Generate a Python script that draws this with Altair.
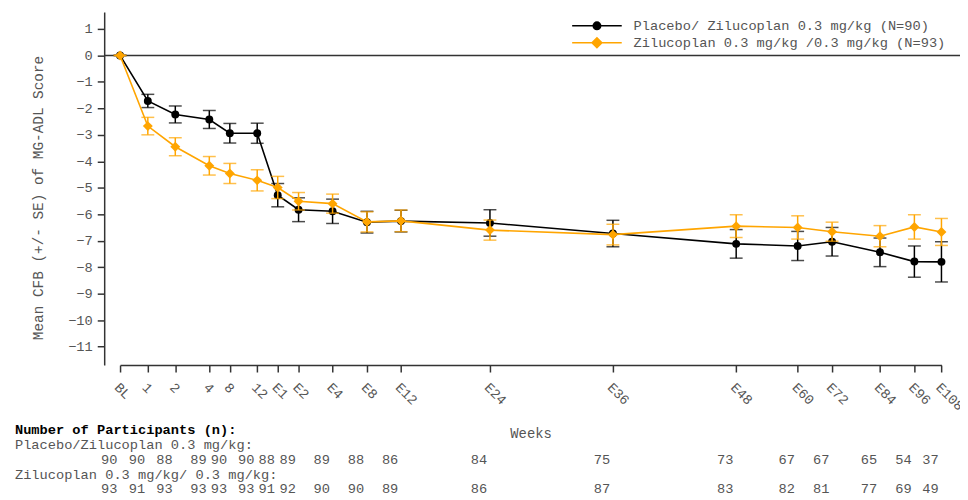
import altair as alt
import pandas as pd

# ---------------- data ----------------
weeks = [0, 1, 2, 4, 8, 12, 13, 14, 16, 20, 24, 36, 48, 60, 72, 84, 96, 108, 120]
visit_labels = ["BL", "1", "2", "4", "8", "12", "E1", "E2", "E4", "E8", "E12",
                "E24", "E36", "E48", "E60", "E72", "E84", "E96", "E108"]

placebo_mean = [0, -1.72, -2.23, -2.42, -2.94, -2.94, -5.28, -5.83, -5.89, -6.30, -6.26,
                -6.33, -6.73, -7.12, -7.20, -7.04, -7.44, -7.79, -7.80]
placebo_se = [0, 0.25, 0.32, 0.34, 0.37, 0.38, 0.44, 0.45, 0.46, 0.41, 0.41,
              0.50, 0.50, 0.54, 0.55, 0.54, 0.54, 0.59, 0.76]
zilu_mean = [0, -2.67, -3.45, -4.17, -4.46, -4.72, -4.99, -5.51, -5.60, -6.29, -6.25,
             -6.60, -6.77, -6.45, -6.50, -6.66, -6.83, -6.48, -6.67]
zilu_se = [0, 0.33, 0.34, 0.35, 0.38, 0.40, 0.42, 0.33, 0.36, 0.38, 0.41,
           0.38, 0.39, 0.43, 0.44, 0.36, 0.40, 0.46, 0.51]

placebo_n = [90, 90, 88, 89, 90, 90, 88, 89, 89, 88, 86, 84, 75, 73, 67, 67, 65, 54, 37]
zilu_n = [93, 91, 93, 93, 93, 93, 91, 92, 90, 90, 89, 86, 87, 83, 82, 81, 77, 69, 49]

series_names = ["Placebo/ Zilucoplan 0.3 mg/kg (N=90)",
                "Zilucoplan 0.3 mg/kg /0.3 mg/kg (N=93)"]
series_colors = ["#000000", "#FFA500"]
series_shapes = ["circle", "diamond"]
series_sizes = [64, 100]
table_header = "Number of Participants (n):"
row_titles = ["Placebo/Zilucoplan 0.3 mg/kg:", "Zilucoplan 0.3 mg/kg/ 0.3 mg/kg:"]
y_title = "Mean CFB (+/- SE) of MG-ADL Score"
x_title = "Weeks"

# ---------------- layout (not data) ----------------
x_pixels = [16, 44, 71.7, 106, 126.7, 154.3, 175, 196, 230.3, 265, 299.3,
            389, 513, 637.3, 699.3, 734, 782.3, 817, 844.3]
PW, PH = 863, 356
FONT = "Liberation Mono"
FS = 13.8
GRAY = "#555555"

rows = []
for name, means, ses, ns in [(series_names[0], placebo_mean, placebo_se, placebo_n),
                             (series_names[1], zilu_mean, zilu_se, zilu_n)]:
    for w, m, s, n in zip(weeks, means, ses, ns):
        rows.append({"week": w, "series": name, "mean": m,
                     "lo": m - s, "hi": m + s, "n": n})
df = pd.DataFrame(rows)

label_expr = ("[" + ",".join("'%s'" % l for l in visit_labels) + "][indexof(["
              + ",".join(str(w) for w in weeks) + "], datum.value)]")

xscale = alt.Scale(domain=weeks, range=x_pixels, nice=False, zero=False)
yscale = alt.Scale(domain=[-11.7, 1.64], nice=False, zero=False)
cscale = alt.Scale(domain=series_names, range=series_colors)

x_axis = alt.Axis(values=weeks, labelExpr=label_expr, labelAngle=45, labelAlign="left",
                  labelBaseline="middle", labelPadding=13, labelOffset=-4, tickSize=7,
                  labelFont=FONT, labelFontSize=FS, labelColor=GRAY, title=x_title,
                  titleFont=FONT, titleFontSize=14, titleFontWeight="normal", titleColor=GRAY,
                  titleX=430, titleY=69, titleBaseline="middle", titleAlign="center",
                  grid=False, labelOverlap=False, labelBound=False, labelFlush=False)
y_axis = alt.Axis(values=list(range(1, -12, -1)), tickSize=7, labelPadding=5,
                  labelFont=FONT, labelFontSize=FS, labelColor=GRAY, title=y_title,
                  titleFont=FONT, titleFontSize=14.5, titleFontWeight="normal", titleColor=GRAY,
                  titleX=-66, titleY=187, titleAngle=-90, titleAlign="center",
                  titleBaseline="middle", grid=False)


def X():
    return alt.X("week:Q", scale=xscale, axis=x_axis)


def Y(field):
    return alt.Y(field, scale=yscale, axis=y_axis)


base = alt.Chart(df)

zero = alt.Chart(pd.DataFrame({"z": [0]})).mark_rule(color="#333333", strokeWidth=1.5).encode(
    y=Y("z:Q"))

series_layers = []
for name, col, shp, sz in zip(series_names, series_colors, series_shapes, series_sizes):
    sub = base.transform_filter(alt.datum.series == name)
    series_layers += [
        sub.mark_rule(strokeWidth=1.5, color=col).encode(x=X(), y=Y("lo:Q"), y2="hi:Q"),
        sub.mark_tick(orient="horizontal", size=13, thickness=1.5, color=col).encode(
            x=X(), y=Y("lo:Q")),
        sub.mark_tick(orient="horizontal", size=13, thickness=1.5, color=col).encode(
            x=X(), y=Y("hi:Q")),
        sub.mark_line(strokeWidth=1.6, color=col).encode(x=X(), y=Y("mean:Q")),
        sub.mark_point(filled=True, opacity=1, size=sz, shape=shp, color=col).encode(
            x=X(), y=Y("mean:Q")),
    ]


def ring(r):
    return "M%g,0A%g,%g,0,1,1,%g,0A%g,%g,0,1,1,%g,0Z" % (r, r, r, -r, r, r, r)


def rhomb(r):
    return "M0,%gL%g,0L0,%gL%g,0Z" % (-r, r, r, -r)


seg = "M-6.25,0L6.25,0"
leg_paths = [seg + "".join(ring(r) for r in (0.95, 0.6, 0.25)),
             seg + "".join(rhomb(r) for r in (1.25, 0.85, 0.45, 0.1))]

leg = alt.Legend(title=None, orient="none", legendX=490, legendY=7, symbolSize=64,
                 symbolStrokeWidth=1.5, symbolOpacity=1, labelOffset=30,
                 labelFont=FONT, labelFontSize=FS, labelColor=GRAY, rowPadding=1,
                 padding=0, labelLimit=0)
legend_layer = base.mark_point(filled=False, opacity=0, strokeWidth=1.5, size=64).encode(
    x=X(), y=Y("mean:Q"),
    color=alt.Color("series:N", scale=cscale, legend=leg),
    shape=alt.Shape("series:N", scale=alt.Scale(domain=series_names, range=leg_paths), legend=leg))

ntext = []
for ns, yy in [(placebo_n, 451.7), (zilu_n, 480.7)]:
    ntext.append(alt.Chart(pd.DataFrame({"week": weeks, "n": ns})).mark_text(
        font=FONT, fontSize=FS, color=GRAY, dx=-11, baseline="middle").encode(
        x=X(), y=alt.value(yy), text="n:Q"))

headers = []
for t, yy, bold in [(table_header, 421.7, True), (row_titles[0], 437, False),
                    (row_titles[1], 466.7, False)]:
    headers.append(alt.Chart(pd.DataFrame({"t": [t]})).mark_text(
        font=FONT, fontSize=FS, color="#000000" if bold else GRAY,
        fontWeight="bold" if bold else "normal", align="left", baseline="middle").encode(
        x=alt.value(-90), y=alt.value(yy), text="t:N"))

chart = alt.layer(zero, *series_layers, legend_layer, *ntext, *headers).properties(
    width=PW, height=PH,
    autosize=alt.AutoSizeParams(type="none"),
    padding={"left": 97, "top": 2, "right": 0, "bottom": 134},
).configure_view(stroke=None).configure_axis(
    domainColor="#333333", domainWidth=1.5, tickColor="#333333", tickWidth=1.5)

chart.save("out.html", embed_options={"renderer": "svg", "actions": False})
